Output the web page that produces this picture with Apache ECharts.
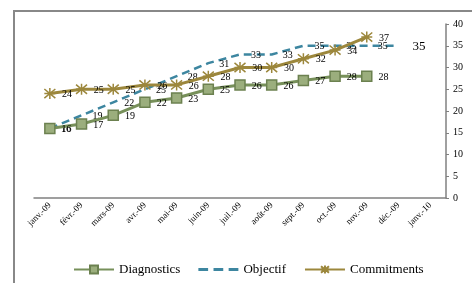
<!DOCTYPE html>
<html>
<head>
<meta charset="utf-8">
<title>Diagnostics</title>
<script src="https://cdn.jsdelivr.net/npm/echarts@6/dist/echarts.min.js"></script>
<style>
  html, body { margin: 0; padding: 0; background: #fff; overflow: hidden; }
  #frame { position: absolute; left: 13px; top: 10px; width: 470px; height: 290px; border: 2px solid #888; box-sizing: border-box; }
  #main { position: absolute; left: 0; top: 0; width: 472px; height: 283px; }
</style>
</head>
<body>
<div id="frame"></div>
<div id="main"></div>
<script type="text/javascript">
    var months = ['janv.-09', 'févr.-09', 'mars-09', 'avr.-09', 'mai-09', 'juin-09', 'juil.-09',
                  'août-09', 'sept.-09', 'oct.-09', 'nov.-09', 'déc.-09', 'janv.-10'];
    var diagnostics = [16, 17, 19, 22, 23, 25, 26, 26, 27, 28, 28];
    var objectif = [16, 19, 22, 25, 28, 31, 33, 33, 35, 35, 35, 35];
    var commitments = [24, 25, 25, 26, 26, 28, 30, 30, 32, 34, 37];

    var serif = '"Liberation Serif", "DejaVu Serif", serif';
    var lbl = { show: true, position: 'right', distance: 6, fontFamily: serif, fontSize: 10, color: '#000', offset: [0, 1] };

    // last objectif label is drawn bigger in the original
    var objData = objectif.map(function (v, i) {
        if (i === objectif.length - 1) {
            return { value: v, label: { fontSize: 13, distance: 14 } };
        }
        return v;
    });

    var dashIcon = 'path://M0,0L9,0L9,3L0,3Z M14,0L23,0L23,3L14,3Z M28,0L37,0L37,3L28,3Z';

    var option = {
        animation: false,
        backgroundColor: 'transparent',
        grid: { left: 34, right: 26, top: 24, bottom: 85 },
        legend: {
            bottom: 2,
            left: 68,
            itemWidth: 40,
            itemHeight: 10,
            itemGap: 18,
            textStyle: { fontFamily: serif, fontSize: 13, color: '#000' },
            data: ['Diagnostics', { name: 'Objectif', icon: dashIcon }, 'Commitments']
        },
        xAxis: {
            type: 'category',
            data: months,
            boundaryGap: true,
            axisLine: { lineStyle: { color: '#808080', width: 1.5 } },
            axisTick: { show: false },
            axisLabel: { rotate: 45, interval: 0, fontFamily: serif, fontSize: 9, color: '#000', margin: 6 }
        },
        yAxis: {
            type: 'value',
            position: 'right',
            min: 0,
            max: 40,
            interval: 5,
            splitLine: { show: false },
            axisLine: { show: true, lineStyle: { color: '#808080', width: 1.5 } },
            axisTick: { show: true, inside: false, length: 3, lineStyle: { color: '#808080' } },
            axisLabel: { fontFamily: serif, fontSize: 10, color: '#000', margin: 7 }
        },
        series: [
            {
                name: 'Diagnostics',
                type: 'line',
                data: diagnostics,
                symbol: 'rect',
                symbolSize: 10,
                lineStyle: { color: '#77905a', width: 3 },
                itemStyle: { color: '#9bae7d', borderColor: '#6c8150', borderWidth: 1.5 },
                label: lbl,
                z: 3
            },
            {
                name: 'Objectif',
                type: 'line',
                data: objData,
                symbol: 'circle',
                symbolSize: 0.1,
                showSymbol: true,
                lineStyle: { color: '#3d86a0', width: 2.5, type: [8, 5] },
                itemStyle: { color: '#3d86a0' },
                label: Object.assign({}, lbl, { distance: 11 }),
                z: 2
            },
            {
                name: 'Commitments',
                type: 'line',
                data: commitments,
                symbol: 'path://M0,0L10,10M10,0L0,10M5,-1L5,11M0,5L10,5',
                symbolSize: 11,
                lineStyle: { color: '#9c873c', width: 3 },
                itemStyle: { color: '#9c873c', borderColor: '#9c873c', borderWidth: 1.5 },
                label: lbl,
                z: 4
            }
        ]
    };

    var myChart = echarts.init(document.getElementById('main'));
    myChart.setOption(option);
</script>
</body>
</html>
